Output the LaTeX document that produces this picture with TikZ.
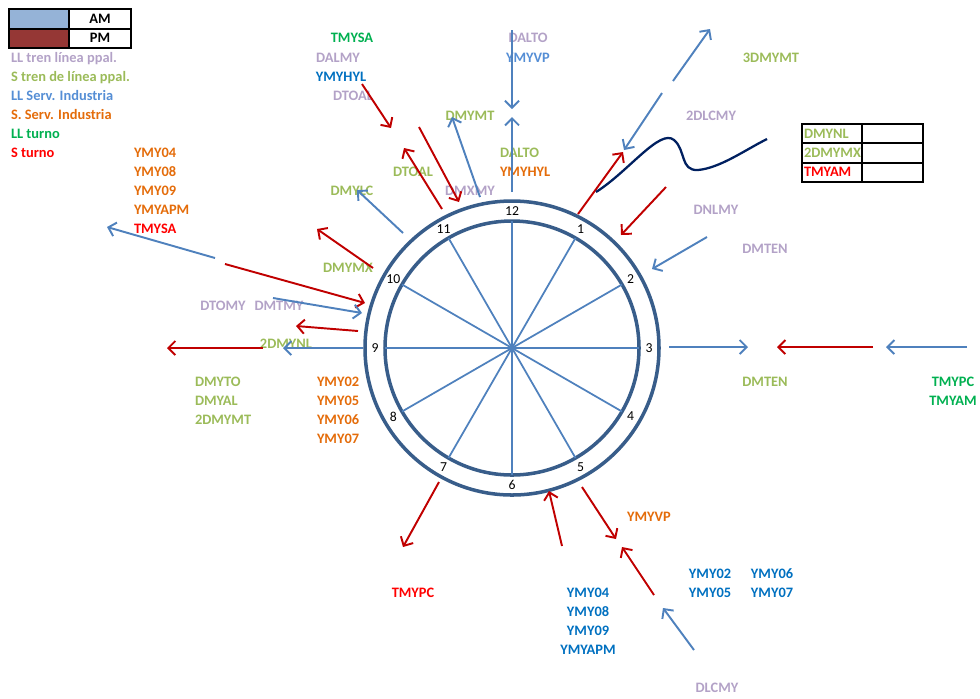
\documentclass[tikz,border=0pt]{standalone}
\usepackage{fontspec}
\setmainfont{Carlito}
\usetikzlibrary{arrows.meta, positioning, calc}

\definecolor{amblue}{HTML}{4F81BD}
\definecolor{pmred}{HTML}{C00000}
\definecolor{ringblue}{HTML}{385D8A}
\definecolor{wavenavy}{HTML}{002060}
\definecolor{lavender}{HTML}{B3A2C7}
\definecolor{leafgreen}{HTML}{9BBB59}
\definecolor{skyblue}{HTML}{558ED5}
\definecolor{deepblue}{HTML}{0070C0}
\definecolor{rust}{HTML}{E46C0A}
\definecolor{turngreen}{HTML}{00B050}
\definecolor{turnred}{HTML}{FF0000}
\definecolor{amfill}{HTML}{95B3D7}
\definecolor{pmfill}{HTML}{953735}

\newcommand{\tagfont}{\fontsize{8.2}{10.8}\selectfont\bfseries}
\newcommand{\hourfont}{\fontsize{7.8}{9}\selectfont}

\tikzset{
  tagtext/.style = {
    font=\tagfont, inner sep=0pt, outer sep=0pt,
    text height=5.3pt, text depth=0pt
  },
  lltren/.style = {tagtext, text=lavender},
  stren/.style = {tagtext, text=leafgreen},
  llserv/.style = {tagtext, text=skyblue},
  sserv/.style = {tagtext, text=rust},
  llturno/.style = {tagtext, text=turngreen},
  sturno/.style = {tagtext, text=turnred},
  ymyblue/.style = {tagtext, text=deepblue},
  amarrow/.style = {
    draw=amblue, line width=1.1pt, -{Straight Barb[length=4pt,width=8pt]}
  },
  pmarrow/.style = {
    draw=pmred, line width=1.1pt, -{Straight Barb[length=4pt,width=8pt]}
  },
  ring/.style = {draw=ringblue, line width=2pt},
  spoke/.style = {draw=amblue, line width=1pt},
  hour/.style = {font=\hourfont, inner sep=0pt},
  boxline/.style = {draw=black, line width=1.2pt}
}

\begin{document}
\begin{tikzpicture}[
  x=0.02cm, y=-0.02cm,
  node distance = 5.5pt
  ]
  \useasboundingbox (0,0) rectangle (980,698);

  % Legend (top left)
  \draw[fill=amfill] (9,9) rectangle (69,29);
  \draw[fill=pmfill] (9,29) rectangle (69,48);
  \draw[boxline] (9,9) rectangle (131,48) (69,9) -- (69,48) (9,29) -- (131,29);
  \node[tagtext] (am) at (100,19) {AM};
  \node[tagtext] (pm) at (100,38) {PM};

  \node[lltren, anchor=west] (leg1) at (11,58) {LL tren línea ppal.};
  \node[stren, below=of leg1.south west, anchor=north west] (leg2) {S tren de línea ppal.};
  \node[llserv, below=of leg2.south west, anchor=north west] (leg3) {LL Serv. Industria};
  \node[sserv, below=of leg3.south west, anchor=north west] (leg4) {S. Serv. Industria};
  \node[llturno, below=of leg4.south west, anchor=north west] (leg5) {LL turno};
  \node[sturno, below=of leg5.south west, anchor=north west] (leg6) {S turno};

  % Table (top right)
  \draw[boxline] (802,124) rectangle (923,182) (862,124) -- (862,182)
    (802,143) -- (923,143) (802,163) -- (923,163);
  \node[stren, anchor=west] (tabnl) at (804,134) {DMYNL};
  \node[stren, anchor=west] (tabmx) at (804,153) {2DMYMX};
  \node[sturno, anchor=west] (tabam) at (804,172) {TMYAM};

  % Clock
  \coordinate (hub) at (512,348);
  \draw[ring] (hub) circle[radius=147];
  \draw[ring] (hub) circle[radius=127];
  \foreach \h in {1,...,12} {
    \coordinate (rim\h) at ($(hub)+(30*\h-90:127)$);
    \draw[spoke] (hub) -- (rim\h);
    \node[hour] (h\h) at ($(hub)+(30*\h-90:137)$) {\h};
  }

  % Labels (left)
  \node[sserv, anchor=west] (ly4) at (134,153) {YMY04};
  \node[sserv, below=of ly4.south west, anchor=north west] (ly8) {YMY08};
  \node[sserv, below=of ly8.south west, anchor=north west] (ly9) {YMY09};
  \node[sserv, below=of ly9.south west, anchor=north west] (lyapm) {YMYAPM};
  \node[sturno, below=of lyapm.south west, anchor=north west] (ltsa) {TMYSA};
  \node[stren] (ldmx) at (348,268) {DMYMX};
  \node[lltren] (ldto) at (223,306) {DTOMY};
  \node[lltren] (ldmt) at (279,306) {DMTMY};
  \node[stren] (ldnl) at (286,344) {2DMYNL};
  \node[stren, anchor=west] (ldyto) at (195,382) {DMYTO};
  \node[stren, below=of ldyto.south west, anchor=north west] (ldyal) {DMYAL};
  \node[stren, below=of ldyal.south west, anchor=north west] (ldymt) {2DMYMT};
  \node[sserv, anchor=west] (ly2) at (317,382) {YMY02};
  \node[sserv, below=of ly2.south west, anchor=north west] (ly5) {YMY05};
  \node[sserv, below=of ly5.south west, anchor=north west] (ly6) {YMY06};
  \node[sserv, below=of ly6.south west, anchor=north west] (ly7) {YMY07};

  % Labels (top)
  \node[llturno] (ttsa) at (352,38) {TMYSA};
  \node[lltren] (tdal) at (338,58) {DALMY};
  \node[ymyblue] (thyl) at (341,77) {YMYHYL};
  \node[lltren] (ttoal) at (353,96) {DTOAL};
  \node[lltren] (tdalto) at (528,38) {DALTO};
  \node[llserv] (tyvp) at (528,58) {YMYVP};
  \node[stren] (tdmt) at (470,116) {DMYMT};
  \node[stren, anchor=west] (tgalto) at (500,153) {DALTO};
  \node[sserv, below=of tgalto.south west, anchor=north west] (tyhyl) {YMYHYL};
  \node[stren] (tgtoal) at (413,172) {DTOAL};
  \node[lltren] (tdmx) at (470,191) {DMXMY};
  \node[stren] (tdlc) at (352,191) {DMYLC};

  % Labels (right)
  \node[stren] (r3mt) at (771,58) {3DMYMT};
  \node[lltren] (r2lc) at (711,116) {2DLCMY};
  \node[lltren] (rnl) at (716,210) {DNLMY};
  \node[lltren] (rten) at (765,249) {DMTEN};
  \node[stren] (rgten) at (765,382) {DMTEN};
  \node[llturno] (rtpc) at (953,382) {TMYPC};
  \node[llturno, below=of rtpc] (rtam) {TMYAM};

  % Labels (bottom)
  \node[sserv] (byvp) at (649,517) {YMYVP};
  \node[sturno] (btpc) at (413,593) {TMYPC};
  \node[ymyblue] (by4) at (588,593) {YMY04};
  \node[ymyblue, below=of by4] (by8) {YMY08};
  \node[ymyblue, below=of by8] (by9) {YMY09};
  \node[ymyblue, below=of by9] (byapm) {YMYAPM};
  \node[ymyblue] (by2) at (710,574) {YMY02};
  \node[ymyblue, below=of by2] (by5) {YMY05};
  \node[ymyblue] (by6) at (772,574) {YMY06};
  \node[ymyblue, below=of by6] (by7) {YMY07};
  \node[lltren] (bdlc) at (717,688) {DLCMY};

  % PM arrows
  \foreach \i/\ax/\ay/\bx/\by in {
      1/362/84/391/128, 2/442/209/404/148, 3/419/127/459/202,
      4/578/214/623/152, 5/666/187/621/235, 6/873/347/777/347,
      7/439/482/403/547, 8/562/546/549/491, 9/582/487/616/539,
      10/654/595/622/547, 11/225/264/365/303, 12/358/331/296/326,
      13/373/268/317/229, 14/263/348/167/348} {
    \coordinate (pm\i a) at (\ax,\ay);
    \coordinate (pm\i b) at (\bx,\by);
    \draw[pmarrow] (pm\i a) -- (pm\i b);
  }

  % AM arrows
  \foreach \i/\ax/\ay/\bx/\by in {
      1/480/197/452/117, 2/512/192/512/117, 3/512/30/512/109,
      4/403/233/357/190, 5/673/81/710/29, 6/662/93/624/150,
      7/707/237/652/269, 8/669/347/748/347, 9/967/347/886/347,
      10/694/650/663/608, 11/215/258/107/227, 12/273/298/362/313,
      13/363/348/283/348} {
    \coordinate (am\i a) at (\ax,\ay);
    \coordinate (am\i b) at (\bx,\by);
    \draw[amarrow] (am\i a) -- (am\i b);
  }

  % Wave line
  \coordinate (wavea) at (596,192);
  \coordinate (waveb) at (767,139);
  \draw[wavenavy, line width=1.3pt] (wavea)
    .. controls (628,172) and (660,128) .. (674,140)
    .. controls (686,150) and (680,171) .. (698,170)
    .. controls (720,168) and (745,150) .. (waveb);

\end{tikzpicture}
\end{document}
